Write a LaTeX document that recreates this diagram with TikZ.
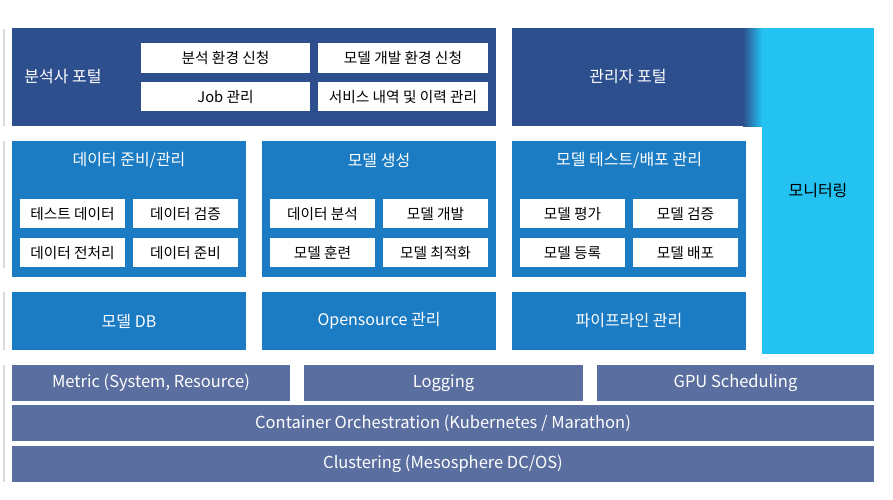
\documentclass[tikz,border=0pt]{standalone}
\usepackage{fontspec}
\setmainfont{Noto Sans CJK KR}
\definecolor{portalblue}{HTML}{2E4F8D}
\definecolor{groupblue}{HTML}{1B7BC3}
\definecolor{monblue}{HTML}{24C2F1}
\definecolor{layerblue}{HTML}{5A6E9F}
\newcommand{\txt}{\fontsize{16}{18}\selectfont}
\newcommand{\itm}{\fontsize{14.7}{16}\selectfont}
\newcommand{\lyr}{\fontsize{16.5}{18}\selectfont}
\begin{document}
\begin{tikzpicture}[x=1pt,y=-1pt,
  box/.style={inner sep=0, font=\txt, text=white},
  portal/.style={box, fill=portalblue, minimum height=98},
  group/.style={box, fill=groupblue, minimum width=234},
  item/.style={inner sep=0, fill=white, font=\itm, text=black},
  layer/.style={box, fill=layerblue, minimum height=36, font=\lyr}]
\useasboundingbox (0,0) rectangle (893,499);
\foreach \ya/\yb in {29/126,141/268,292/350,365/482}
\draw[black!15, line width=1.2] (4,\ya) -- (4,\yb);
% portals
\node[portal, minimum width=484] (analyst) at (254,77) {};
\node[box] (analystlbl) at (63,77) {분석사 포털};
\node[item, minimum width=169, minimum height=30] (req1) at (225.5,58) {분석 환경 신청};
\node[item, minimum width=170, minimum height=30] (req2) at (403,58) {모델 개발 환경 신청};
\node[item, minimum width=169, minimum height=29] (job) at (225.5,96.5) {Job 관리};
\node[item, minimum width=170, minimum height=29] (hist) at (403,96.5) {서비스 내역 및 이력 관리};
\node[portal, minimum width=232] (admin) at (628,77) {관리자 포털};
\shade[left color=portalblue, right color=monblue] (743,28) rectangle (762,126);
\node[box, fill=monblue, text=black, minimum width=112, minimum height=326] (monitor) at (818,191) {};
\node[font=\txt] (monlbl) at (818,191) {모니터링};
% groups
\foreach \n/\x/\t/\a/\b/\c/\d in {
  data/129/{데이터 준비/관리}/테스트 데이터/데이터 검증/데이터 전처리/데이터 준비,
  model/379/모델 생성/데이터 분석/모델 개발/모델 훈련/모델 최적화,
  deploy/629/{모델 테스트/배포 관리}/모델 평가/모델 검증/모델 등록/모델 배포}{
\node[group, minimum height=136] (\n) at (\x,209) {};
\node[box] (\n title) at (\x,160) {\t};
\node[item, minimum width=105, minimum height=29] (\n a) at ([xshift=-56.5]\n.center |- 0,213.5) {\a};
\node[item, minimum width=105, minimum height=29] (\n b) at ([xshift=56.5]\n.center |- 0,213.5) {\b};
\node[item, minimum width=105, minimum height=29] (\n c) at ([xshift=-56.5]\n.center |- 0,252.5) {\c};
\node[item, minimum width=105, minimum height=29] (\n d) at ([xshift=56.5]\n.center |- 0,252.5) {\d};
}
\node[group, minimum height=58] (modeldb) at (129,321) {모델 DB};
\node[group, minimum height=58] (oss) at (379,321) {Opensource 관리};
\node[group, minimum height=58] (pipe) at (629,321) {파이프라인 관리};
% layers
\node[layer, minimum width=278] (metric) at (151,383) {Metric (System, Resource)};
\node[layer, minimum width=279] (logging) at (443.5,383) {Logging};
\node[layer, minimum width=277] (gpu) at (735.5,383) {GPU Scheduling};
\node[layer, minimum width=862] (container) at (443,423) {Container Orchestration (Kubernetes / Marathon)};
\node[layer, minimum width=862] (cluster) at (443,464) {Clustering (Mesosphere DC/OS)};
\end{tikzpicture}
\end{document}
